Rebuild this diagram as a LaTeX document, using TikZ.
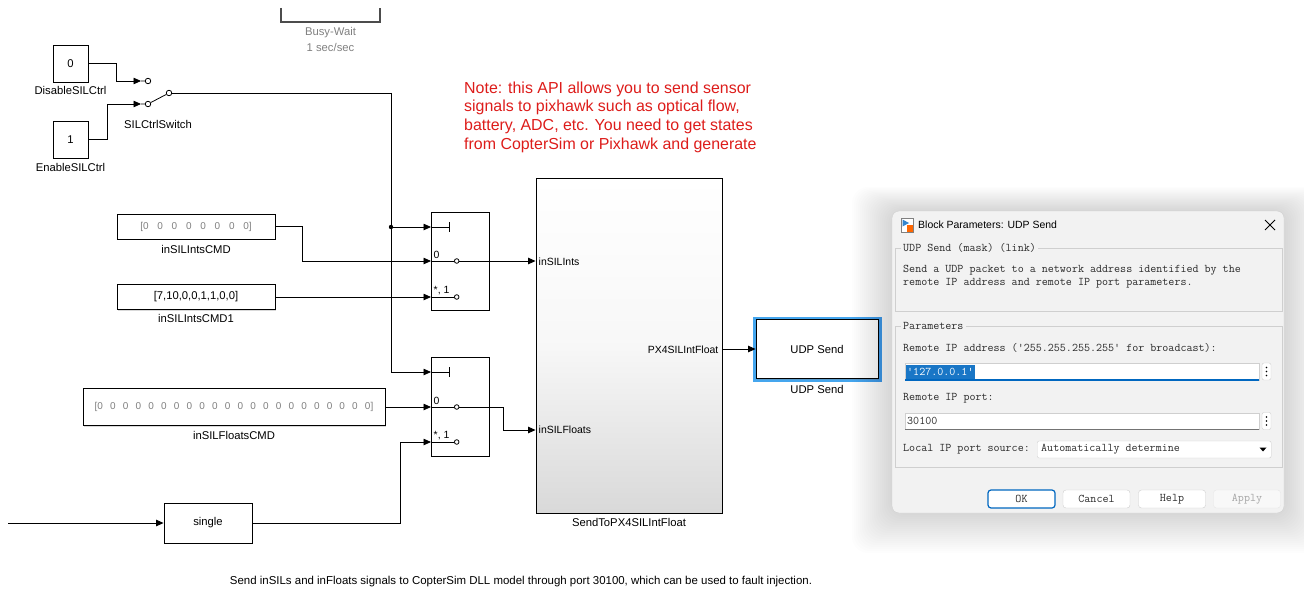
\documentclass[tikz,border=0pt]{standalone}
\usepackage{fontspec}
\setmainfont{Liberation Sans}
\usetikzlibrary{positioning}
\usetikzlibrary{calc}
\usetikzlibrary{arrows.meta}
\usetikzlibrary{shadows}
\definecolor{notered}{HTML}{DD1C1A}
\definecolor{selblue}{HTML}{45A6EE}
\definecolor{dlgbg}{HTML}{F2F2F2}
\definecolor{dlgline}{HTML}{CFCFCF}
\definecolor{dlgtxt}{HTML}{2C2C2C}
\definecolor{winblue}{HTML}{0067C0}
\newcommand{\zrow}[2]{[0\foreach \k in {2,...,#1}{\hspace{#2}0}]}
\tikzset{x=1bp, y=-1bp,
blk/.style={
draw,
line width=.9bp,
fill=white,
inner sep=0pt,
font=\fontsize{11.3}{13}\selectfont,
drop shadow={shadow xshift=1.2bp, shadow yshift=-1.2bp, opacity=.3, fill=gray}},
lbl/.style={inner sep=0pt, font=\fontsize{11.3}{13}\selectfont},
port/.style={inner sep=0pt, font=\fontsize{10.5}{12}\selectfont},
pin/.style={circle, draw, line width=.8bp, fill=white, inner sep=0pt, minimum size=4.6bp},
wire/.style={line width=.8bp},
sig/.style={line width=.8bp, -{Triangle[length=7.5bp,width=6.5bp]}},
dlg/.style={inner sep=0pt, anchor=west, text=dlgtxt, font=\ttfamily\fontsize{11.75}{13.5}\selectfont},
btn/.style={draw=dlgline, fill=white, rounded corners=3bp, minimum width=67bp, minimum height=18bp, inner sep=0pt, text=dlgtxt, font=\ttfamily\fontsize{11.75}{13.5}\selectfont}}

\begin{document}
\begin{tikzpicture}
\useasboundingbox (0,0) rectangle (1304,590);
% busy-wait block (cut at the top)
\draw[line width=2bp, black!70] (281,8) |- (380,22) -- (380,8);
\node[lbl, text=gray] (bw) at (330.5,33) {Busy-Wait};
\node[lbl, text=gray] (bwrate) at (330.5,47) {1 sec/sec};

% constants and manual switch
\node[blk, minimum width=35bp, minimum height=37bp] (dis) at (70.5,63.5) {0};
\node[lbl, below=4bp of dis] (disl) {DisableSILCtrl};
\node[blk, minimum width=35bp, minimum height=37bp] (ena) at (70.5,139.5) {1};
\node[lbl, below=5bp of ena] (enal) {EnableSILCtrl};
\coordinate (swa) at (141,81);
\coordinate (swb) at (141,104);
\node[pin, minimum size=5.5bp] (swca) at (148,81) {};
\node[pin, minimum size=5.5bp] (swcb) at (148,104) {};
\node[pin, minimum size=5.5bp] (swco) at (169,93) {};
\draw[wire] (swa) -- (swca) (swb) -- (swcb) (swcb) -- (swco);
\node[lbl] (swl) at (158,124) {SILCtrlSwitch};
\draw[sig] (dis.east) -- (116,63.5) |- (swa);
\draw[sig] (ena.east) -- (107,139.5) |- (swb);

% int commands
\node[blk, minimum width=158bp, minimum height=25bp, text=gray, font=\fontsize{10}{12}\selectfont] (ints) at (196,226.5) {\zrow{8}{8.8bp}};
\node[lbl, below=6bp of ints] (intsl) {inSILIntsCMD};
\node[blk, minimum width=158bp, minimum height=25bp] (ints1) at (196,297) {[7,10,0,0,1,1,0,0]};
\node[lbl, below=4bp of ints1] (ints1l) {inSILIntsCMD1};

% float commands
\node[blk, minimum width=302bp, minimum height=37bp, text=gray, font=\fontsize{10}{12}\selectfont] (flts) at (234,407) {\zrow{22}{7.2bp}};
\node[lbl, below=5bp of flts] (fltsl) {inSILFloatsCMD};
\coordinate (src) at (8,523);
\node[blk, minimum width=88bp, minimum height=40bp] (single) at (208,523) {single};

% multiport switches
\node[blk, minimum width=58bp, minimum height=98bp] (ms1) at (460,261) {};
\coordinate (ms1c) at (431,227);
\coordinate (ms1p0) at (431,261);
\coordinate (ms1p1) at (431,297);
\node[blk, minimum width=58bp, minimum height=99bp] (ms2) at (460,406.5) {};
\coordinate (ms2c) at (431,372);
\coordinate (ms2p0) at (431,407);
\coordinate (ms2p1) at (431,442);
\foreach \m in {ms1,ms2}{
\draw[wire] (\m c) -- ++(18,0) ++(0,-5) -- ++(0,10);
\draw[wire] (\m p0) -- ++(23,0) node[pin, anchor=west] (\m o0) {};
\draw[wire] (\m p1) -- ++(23,0) node[pin, anchor=west] (\m o1) {};
\node[port, anchor=south west] (\m t0) at ($(\m p0)+(2.5,-2)$) {0};
\node[port, anchor=south west] (\m t1) at ($(\m p1)+(2.5,-2)$) {*, 1};
}

% subsystem
\node[draw, line width=.9bp, top color=white, bottom color=black!15, middle color=black!3, minimum width=186bp, minimum height=335bp, drop shadow={shadow xshift=1.2bp, shadow yshift=-1.2bp, opacity=.3, fill=gray}] (sub) at (629,345.5) {};
\node[lbl, below=5bp of sub] (subl) {SendToPX4SILIntFloat};
\node[port, anchor=west] (subi1) at (538.5,262) {inSILInts};
\node[port, anchor=west] (subi2) at (538.5,430) {inSILFloats};
\node[port, anchor=east] (subo) at (718.5,349.5) {PX4SILIntFloat};

% udp send
\node[draw=selblue, line width=3bp, minimum width=126bp, minimum height=62bp] (udpsel) at (817,349) {};
\node[blk, minimum width=122bp, minimum height=59bp] (udp) at (817,349) {UDP Send};
\node[lbl, below=6bp of udp] (udpl) {UDP Send};

% connections
\draw[wire] (swco) -- (391,93) coordinate (bus);
\draw[sig] (bus) |- (ms2c);
\draw[sig] (bus |- ms1c) -- (ms1c);
\fill (bus |- ms1c) circle (2.2bp);
\draw[sig] (ints.east) -- ++(27,0) |- (ms1p0);
\draw[sig] (ints1.east) -- (ms1p1);
\draw[sig] (flts.east) -- (ms2p0);
\draw[sig] (src) -- (single.west);
\draw[sig] (single.east) -- (400,523) |- (ms2p1);
\draw[sig] (ms1o0.east) -- (ms1o0 -| sub.west);
\draw[sig] (ms2o0.east) -- (503,407) |- (subi2.west -| sub.west);
\draw[sig] (sub.east |- udp.west) -- (udp.west);

% note and caption
\node[anchor=north west, inner sep=0pt, align=left, text=notered, font=\fontsize{16}{18.7}\selectfont] (note) at (464,81.5) {Note: this API allows you to send sensor\\signals to pixhawk such as optical flow,\\battery, ADC, etc. You need to get states\\from CopterSim or Pixhawk and generate};
\node[inner sep=0pt, font=\fontsize{11.5}{13}\selectfont] (cap) at (521,582) {Send inSILs and inFloats signals to CopterSim DLL model through port 30100, which can be used to fault injection.};

% block parameters dialog
\foreach \s in {2,4,...,40}
\fill[black, opacity=.006, rounded corners=16bp] (892-\s,211-\s*.6) rectangle (1284+\s,513+\s);
\draw[dlgline, fill=dlgbg, rounded corners=7bp] (892,211) rectangle (1284,513);
\fill[white] (901,218) rectangle (913,232);
\draw[black!50, line width=.5bp] (901,218) rectangle (913,232);
\fill[winblue!80] (902.5,219.5) -- (909,223) -- (902.5,226.5) -- cycle;
\fill[orange!80!red] (907,225) rectangle (912.5,231.5);
\node[anchor=west, inner sep=0pt, font=\fontsize{10.5}{12}\selectfont] (dlgt) at (918,225) {Block Parameters: UDP Send};
\draw[line width=.9bp] (1265,220) -- (1275,230) (1265,230) -- (1275,220);
\draw[dlgline] (895,248) rectangle (1282,311);
\node[dlg, fill=dlgbg, inner xsep=2bp] (g1t) at (901,248) {UDP Send (mask) (link)};
\node[dlg, align=left] (desc) at (903,276.5) {Send a UDP packet to a network address identified by the\\remote IP address and remote IP port parameters.};
\draw[dlgline] (895,326) rectangle (1282,467);
\node[dlg, fill=dlgbg, inner xsep=2bp] (g2t) at (901,326) {Parameters};
\node[dlg] (iplab) at (903,348) {Remote IP address ('255.255.255.255' for broadcast):};
\node[draw=dlgline, fill=white, minimum width=354bp, minimum height=17bp, inner sep=0pt, anchor=west] (ipbox) at (905,371.5) {};
\draw[winblue, line width=1.5bp] (ipbox.south west) -- (ipbox.south east);
\node[dlg, fill=winblue!90, text=white, inner xsep=1bp, minimum height=14bp] (ipval) at (906,371.5) {'127.0.0.1'};
\node[draw=dlgline, fill=white, rounded corners=2bp, minimum width=9bp, minimum height=17bp, inner sep=0pt] (ipdots) at (1266.5,371.5) {};
\node[dlg] (portlab) at (903,398) {Remote IP port:};
\node[draw=dlgline, fill=white, minimum width=354bp, minimum height=16bp, inner sep=0pt, anchor=west] (portbox) at (905,421) {};
\draw[black!55, line width=.8bp] (portbox.south west) -- (portbox.south east);
\node[dlg] (portval) at (907,421) {30100};
\node[draw=dlgline, fill=white, rounded corners=2bp, minimum width=9bp, minimum height=17bp, inner sep=0pt] (portdots) at (1266.5,421) {};
\foreach \b in {ipdots,portdots}
\foreach \d in {-4,0,4}
\fill (\b.center) ++(0,\d) circle (.8bp);
\node[dlg] (srclab) at (903,449.5) {Local IP port source:};
\node[draw=dlgline, fill=white, rounded corners=2bp, minimum width=234bp, minimum height=17bp, inner sep=0pt, anchor=west] (srcbox) at (1037,449.5) {};
\node[dlg] (srcval) at (1041,449.5) {Automatically determine};
\fill (1259.5,447.5) -- (1266.5,447.5) -- (1263,451.5) -- cycle;
\node[btn, draw=winblue, line width=1.2bp] (ok) at (1021.5,499) {OK};
\node[btn] (cancel) at (1096.5,499) {Cancel};
\node[btn] (help) at (1172,499) {Help};
\node[btn, draw=dlgline!50, fill=dlgbg!50, text=black!35] (apply) at (1247,499) {Apply};
\end{tikzpicture}
\end{document}
